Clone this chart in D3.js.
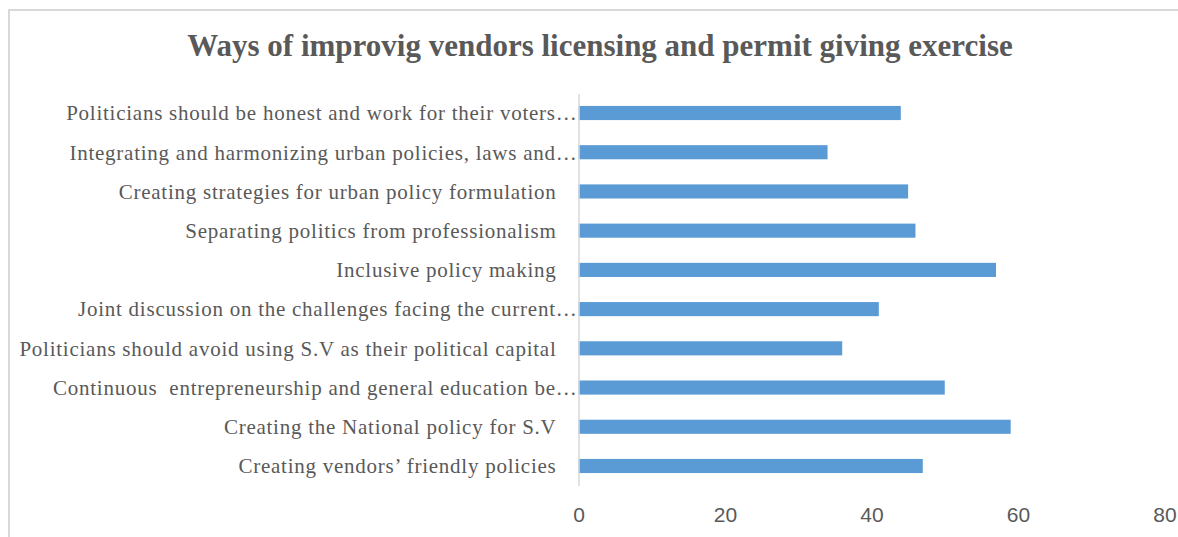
<!DOCTYPE html>
<html>
<head>
<meta charset="utf-8">
<script src="https://cdn.jsdelivr.net/npm/d3@7"></script>
<style>
  html, body { margin: 0; padding: 0; background: #fff; }
  #chart { width: 1178px; height: 537px; overflow: hidden; }
</style>
</head>
<body>
<div id="chart"></div>
<script>
const title = "Ways of improvig vendors licensing and permit giving exercise";

// top to bottom as drawn
const categories = [
  "Politicians should be honest and work for their voters…",
  "Integrating and harmonizing urban policies, laws and…",
  "Creating strategies for urban policy formulation",
  "Separating politics from professionalism",
  "Inclusive policy making",
  "Joint discussion on the challenges facing the current…",
  "Politicians should avoid using S.V as their political capital",
  "Continuous  entrepreneurship and general education be…",
  "Creating the National policy for S.V",
  "Creating vendors’ friendly policies",
];

const values = [44, 34, 45, 46, 57, 41, 36, 50, 59, 47];

const xTicks = [0, 20, 40, 60, 80];

const width = 1178;
const height = 537;
const margin = { top: 93.4, right: 13.5, bottom: 51.4, left: 578.5 };

const svg = d3
  .select("#chart")
  .append("svg")
  .attr("width", width)
  .attr("height", height)
  .attr("viewBox", [0, 0, width, height]);

// chart frame (runs off the right and bottom of the picture)
svg
  .append("rect")
  .attr("x", 9)
  .attr("y", 10)
  .attr("width", width + 20)
  .attr("height", height + 20)
  .attr("fill", "none")
  .attr("stroke", "#d9d9d9")
  .attr("stroke-width", 2);

svg
  .append("text")
  .attr("x", 600)
  .attr("y", 56)
  .attr("text-anchor", "middle")
  .style("font-family", "'Liberation Serif', 'Times New Roman', serif")
  .style("font-weight", "bold")
  .style("font-size", "31px")
  .attr("fill", "#595959")
  .text(title);

const x = d3
  .scaleLinear()
  .domain([0, 80])
  .range([margin.left, width - margin.right]);

const y = d3
  .scaleBand()
  .domain(categories)
  .range([margin.top, height - margin.bottom])
  .paddingInner(0.64)
  .paddingOuter(0.32);

const data = categories.map((c, i) => ({ label: c, value: values[i] }));

svg
  .append("g")
  .selectAll("rect")
  .data(data)
  .join("rect")
  .attr("x", x(0))
  .attr("y", (d) => y(d.label))
  .attr("width", (d) => x(d.value) - x(0))
  .attr("height", y.bandwidth())
  .attr("fill", "#5b9bd5");

// category axis
const yAxis = svg
  .append("g")
  .attr("transform", `translate(${x(0)},0)`)
  .call(d3.axisLeft(y).tickSize(0).tickPadding(0));

yAxis.select(".domain").attr("stroke", "#d9d9d9").attr("stroke-width", 1.5);

yAxis
  .selectAll(".tick text")
  .attr("x", (d) => (d.endsWith("…") ? -1 : -22))
  .attr("dy", "0.35em")
  .attr("fill", "#595959")
  .style("white-space", "pre")
  .style("letter-spacing", "0.75px")
  .style("font-family", "'Liberation Serif', 'Times New Roman', serif")
  .style("font-size", "21px");

// value axis, labels only
const xAxis = svg
  .append("g")
  .attr("transform", `translate(0,${height - margin.bottom})`)
  .call(d3.axisBottom(x).tickValues(xTicks).tickSize(0).tickPadding(0));

xAxis.select(".domain").remove();

xAxis
  .selectAll(".tick text")
  .attr("y", 29)
  .attr("dy", "0.35em")
  .attr("fill", "#595959")
  .style("font-family", "'Liberation Sans', Arial, sans-serif")
  .style("font-size", "21px");
</script>
</body>
</html>
